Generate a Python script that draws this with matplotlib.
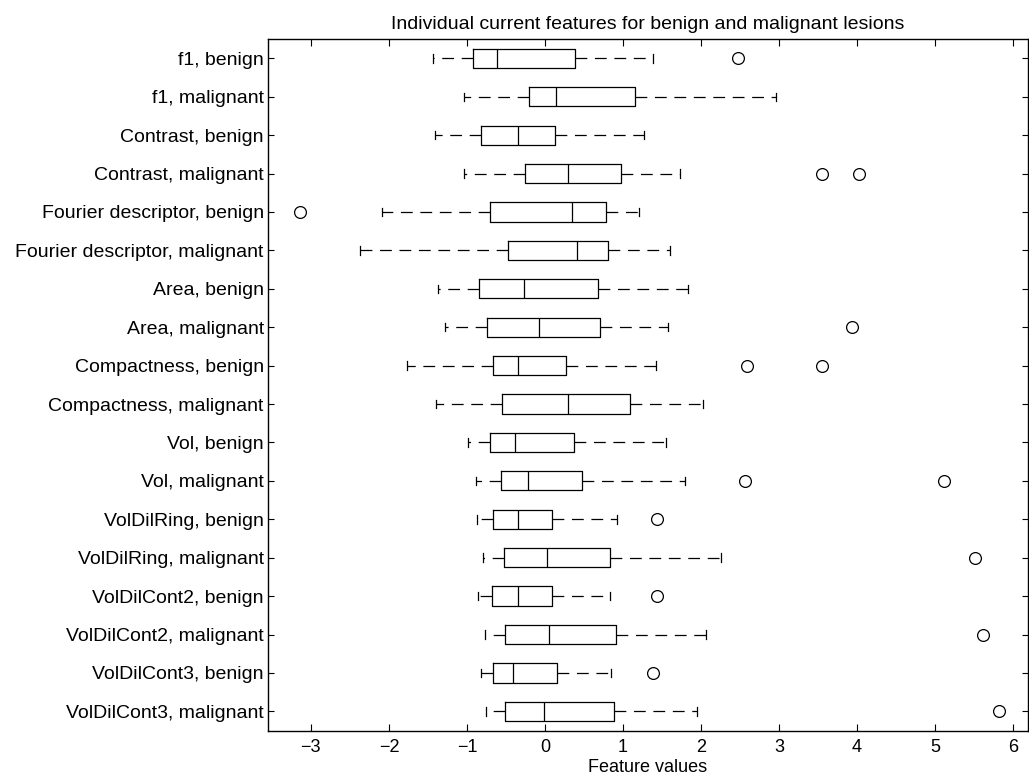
import matplotlib
matplotlib.use("Agg")
import matplotlib.pyplot as plt

# feature rows, top to bottom
labels = [
    "f1, benign", "f1, malignant",
    "Contrast, benign", "Contrast, malignant",
    "Fourier descriptor, benign", "Fourier descriptor, malignant",
    "Area, benign", "Area, malignant",
    "Compactness, benign", "Compactness, malignant",
    "Vol, benign", "Vol, malignant",
    "VolDilRing, benign", "VolDilRing, malignant",
    "VolDilCont2, benign", "VolDilCont2, malignant",
    "VolDilCont3, benign", "VolDilCont3, malignant",
]

# box statistics
whis_lo = [-1.44, -1.04, -1.41, -1.04, -2.09, -2.37, -1.37, -1.28, -1.77,
           -1.40, -0.98, -0.89, -0.87, -0.80, -0.86, -0.77, -0.82, -0.755]
q1 = [-0.92, -0.21, -0.82, -0.25, -0.71, -0.47, -0.85, -0.74, -0.67,
      -0.55, -0.71, -0.56, -0.67, -0.53, -0.68, -0.51, -0.66, -0.51]
medians = [-0.61, 0.145, -0.34, 0.30, 0.35, 0.41, -0.27, -0.07, -0.34,
           0.30, -0.39, -0.22, -0.35, 0.03, -0.34, 0.05, -0.41, -0.01]
q3 = [0.38, 1.15, 0.13, 0.98, 0.78, 0.81, 0.68, 0.71, 0.27,
      1.09, 0.37, 0.47, 0.085, 0.83, 0.09, 0.91, 0.15, 0.89]
whis_hi = [1.39, 2.96, 1.27, 1.73, 1.21, 1.60, 1.83, 1.58, 1.42,
           2.03, 1.55, 1.79, 0.92, 2.26, 0.83, 2.07, 0.85, 1.95]
outliers = [[2.47], [], [], [3.55, 4.02], [-3.14], [], [], [3.94], [2.59, 3.55],
            [], [], [2.56, 5.12], [1.44], [5.51], [1.43], [5.62], [1.38], [5.82]]

stats = []
for i in range(len(labels)):
    stats.append({
        "label": labels[i],
        "whislo": whis_lo[i], "q1": q1[i], "med": medians[i],
        "q3": q3[i], "whishi": whis_hi[i], "fliers": outliers[i],
    })

plt.rcParams["font.family"] = ["Liberation Sans", "DejaVu Sans"]
plt.rcParams["lines.scale_dashes"] = False

fig = plt.figure(figsize=(10.29, 7.83), dpi=100)
ax = fig.add_axes([0.2604, 0.067, 0.7386, 0.883])

positions = list(range(1, len(labels) + 1))
ax.bxp(stats, positions=positions, orientation="horizontal", widths=0.5,
       capwidths=0.22,
       boxprops=dict(color="black", linewidth=0.9),
       medianprops=dict(color="black", linewidth=0.9),
       whiskerprops=dict(color="black", linewidth=0.9, linestyle=(0, (8.5, 5.5))),
       capprops=dict(color="black", linewidth=0.9),
       flierprops=dict(marker="o", markerfacecolor="none", markeredgecolor="black",
                       markersize=8.5, markeredgewidth=0.9))

ax.set_ylim(18.5, 0.5)
ax.set_xlim(-3.55, 6.19)
ax.set_xticks(range(-3, 7))
ax.set_yticks(positions)
ax.set_yticklabels(labels)

ax.tick_params(axis="x", direction="in", length=5, top=True, labelsize=13, pad=6)
ax.tick_params(axis="y", direction="in", length=4, right=True, labelsize=14, pad=3)
for s in ax.spines.values():
    s.set_linewidth(1.0)

ax.set_xlabel("Feature values", fontsize=13, labelpad=2)
ax.set_title("Individual current features for benign and malignant lesions",
             fontsize=14, pad=7)

fig.savefig("out.png", dpi=100)
